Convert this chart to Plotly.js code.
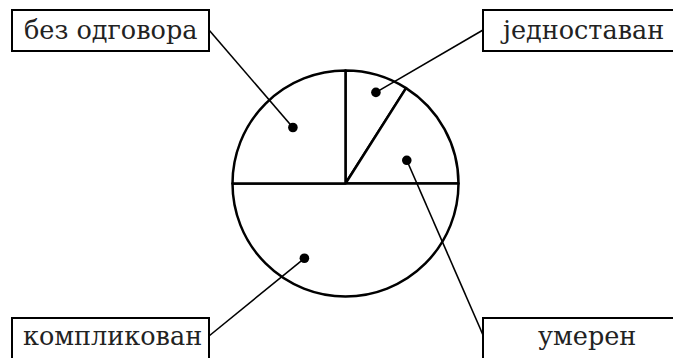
<!DOCTYPE html>
<html>
<head>
<meta charset="utf-8">
<script src="https://cdn.plot.ly/plotly-3.0.1.min.js"></script>
<style>html,body{margin:0;padding:0;background:#fff;}#chart{width:673px;height:358px;}</style>
</head>
<body>
<div id="chart"></div>
<script>
// ---- data ----
const categories = ["једноставан", "умерен", "компликован", "без одговора"];
const values = [9, 16, 50, 25];

// ---- layout helpers (positions / styles) ----
const W = 673, H = 358;
const cx = 345.5, cy = 183.5, R = 113;
const px = x => x / W;
const py = y => 1 - y / H;

// dot placement inside each slice: fraction along the slice's angle, fraction of radius
const dotPlace = [
  {a: 0.57, r: 0.85},
  {a: 0.64, r: 0.58},
  {a: 0.66, r: 0.755},
  {a: 0.52, r: 0.68}
];
// label boxes (pixel rectangles), leader anchor on the box, text centre
const boxes = [
  {x0: 483, x1: 690, y0: 10, y1: 51, ax: 483, ay: 30, tx: 582, ty: 30},
  {x0: 483, x1: 690, y0: 318, y1: 370, ax: 483, ay: 335, tx: 587, ty: 336},
  {x0: 12, x1: 209, y0: 318, y1: 370, ax: 209, ay: 336, tx: 112, ty: 336},
  {x0: 12, x1: 209, y0: 10, y1: 51, ax: 209, ay: 30, tx: 110, ty: 30}
];

const total = values.reduce((s, v) => s + v, 0);
const shapes = [];
const annotations = [];
let start = 0;
values.forEach((v, i) => {
  const ang = (start + v * dotPlace[i].a) / total * 2 * Math.PI; // clockwise from 12 o'clock
  const dx = cx + Math.sin(ang) * R * dotPlace[i].r;
  const dy = cy - Math.cos(ang) * R * dotPlace[i].r;
  start += v;
  const b = boxes[i];
  shapes.push({type: 'line', xref: 'paper', yref: 'paper',
    x0: px(b.ax), y0: py(b.ay), x1: px(dx), y1: py(dy),
    line: {color: '#000', width: 1.6}});
  shapes.push({type: 'circle', xref: 'paper', yref: 'paper',
    x0: px(dx - 4.8), x1: px(dx + 4.8), y0: py(dy + 4.8), y1: py(dy - 4.8),
    fillcolor: '#000', line: {color: '#000', width: 0}});
  shapes.push({type: 'rect', xref: 'paper', yref: 'paper',
    x0: px(b.x0), x1: px(b.x1), y0: py(b.y1), y1: py(b.y0),
    fillcolor: '#fff', line: {color: '#000', width: 2}});
  annotations.push({xref: 'paper', yref: 'paper', x: px(b.tx), y: py(b.ty),
    xanchor: 'center', yanchor: 'middle', showarrow: false,
    text: categories[i],
    font: {family: 'DejaVu Serif', size: 25.5, color: '#222'}});
});

const trace = {
  type: 'pie',
  labels: categories,
  values: values,
  sort: false,
  direction: 'clockwise',
  rotation: 0,
  textinfo: 'none',
  hoverinfo: 'skip',
  marker: {colors: categories.map(() => '#fff'), line: {color: '#000', width: 2.5}},
  domain: {x: [px(cx - R), px(cx + R)], y: [py(cy + R), py(cy - R)]},
  showlegend: false
};

Plotly.newPlot('chart', [trace], {
  width: W, height: H,
  margin: {l: 0, r: 0, t: 0, b: 0, pad: 0},
  paper_bgcolor: '#fff', plot_bgcolor: '#fff',
  showlegend: false,
  shapes: shapes,
  annotations: annotations
}, {staticPlot: true, displayModeBar: false});
</script>
</body>
</html>
